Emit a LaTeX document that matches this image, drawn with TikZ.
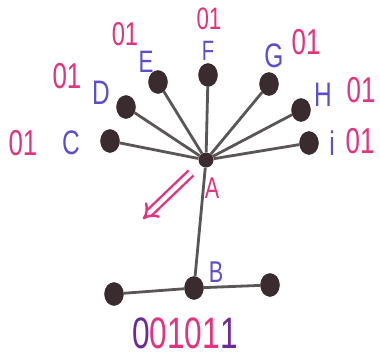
\documentclass[tikz,border=0pt]{standalone}
\usepackage{fontspec}
\setmainfont{Liberation Sans}
\newfontfamily\hand[FakeStretch=0.72]{Liberation Sans}
\usetikzlibrary{arrows.meta,shapes.geometric}
\definecolor{pinkc}{HTML}{E2347E}
\definecolor{bluec}{HTML}{5A4FC8}
\definecolor{purpc}{HTML}{6A2A9A}
\definecolor{dotc}{HTML}{3A2C2E}
\definecolor{edgec}{HTML}{5A5656}
\tikzset{
  dot/.style={ellipse, minimum width=19pt, minimum height=23pt, inner sep=0pt, fill=dotc, draw=dotc!70!black},
  hub/.style={circle, minimum size=15pt, inner sep=0pt, fill=dotc},
  edge/.style={draw=edgec, line width=2.8pt},
  pk/.style={text=pinkc, font=\hand\fontsize{36}{38}\selectfont, inner sep=0pt},
  bl/.style={text=bluec, font=\hand\fontsize{34}{36}\selectfont, inner sep=0pt},
}
\begin{document}
\begin{tikzpicture}[x=1pt,y=-1pt]
\useasboundingbox[fill=white] (0,0) rectangle (380,356);
\node[hub] (A) at (206,160) {};
\node[dot] (C) at (110,141) {};
\node[dot] (D) at (126,107) {};
\node[dot] (E) at (158,82) {};
\node[dot] (F) at (208,75) {};
\node[dot] (G) at (269,84) {};
\node[dot] (H) at (301,110) {};
\node[dot] (I) at (309,143) {};
\node[dot] (B) at (194,288) {};
\node[dot] (L) at (114,294) {};
\node[dot] (R) at (270,285) {};
\foreach \n in {C,D,E,F,G,H,I,B} \draw[edge] (A) -- (\n);
\draw[edge] (L) -- (B) -- (R);
\node[pk] (lc) at (23,143) {01};
\node[bl] (nc) at (71,143) {C};
\node[pk] (ld) at (67,76) {01};
\node[bl] (nd) at (101,93) {D};
\node[pk, font=\hand\fontsize{33}{35}\selectfont] (le) at (125,34) {01};
\node[bl, font=\hand\fontsize{31}{33}\selectfont] (ne) at (146,62) {E};
\node[pk, font=\hand\fontsize{31}{33}\selectfont] (lf) at (209,19) {01};
\node[bl, font=\hand\fontsize{28}{30}\selectfont] (nf) at (208,51) {F};
\node[bl] (ng) at (274,56) {G};
\node[pk] (lg) at (306,42) {01};
\node[bl] (nh) at (323,95) {H};
\node[pk] (lh) at (361,90) {01};
\node[bl] (ni) at (332,143) {i};
\node[pk] (li) at (360,141) {01};
\node[pk, font=\hand\fontsize{30}{32}\selectfont] (na) at (212,188) {A};
\node[bl, font=\hand\fontsize{30}{32}\selectfont] (nb) at (216,272) {B};
\node[inner sep=0pt, font=\hand\fontsize{44}{46}\selectfont] (code) at (185,333) {\textcolor{purpc}{0}\textcolor{pinkc}{0101}\textcolor{purpc}{1}};
\coordinate (s) at (191,173);
\coordinate (t) at (143,219);
\draw[pinkc, line width=2.4pt, double, double distance=4.5pt, -{Implies[length=12pt]}] (s) -- (t);
\end{tikzpicture}
\end{document}
